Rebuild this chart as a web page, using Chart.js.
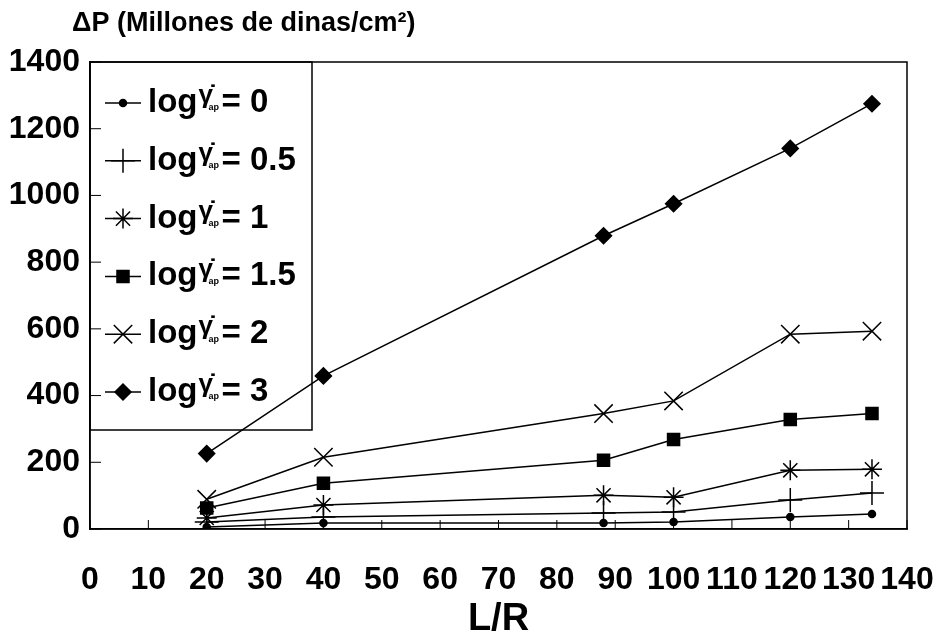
<!DOCTYPE html>
<html>
<head>
<meta charset="utf-8">
<script src="https://cdn.jsdelivr.net/npm/chart.js@4.4.1/dist/chart.umd.min.js"></script>
<style>
  body { margin: 0; background: #fff; }
  #wrap { width: 938px; height: 635px; }
</style>
</head>
<body>
<div id="wrap"><canvas id="myChart" width="938" height="635"></canvas></div>
<script>
// L/R values and pressure drop (millions of dyn/cm2), one array per shear rate
const lr = [20, 40, 88, 100, 120, 134];
const dp_0 = [6, 18, 18, 21, 36, 45];
const dp_05 = [21, 36, 48, 51, 87, 108];
const dp_1 = [33, 72, 101, 95, 176, 179];
const dp_15 = [63, 137, 206, 268, 328, 346];
const dp_2 = [89, 215, 346, 384, 584, 593];
const dp_3 = [226, 459, 879, 975, 1141, 1275];
const seriesNames = ["0", "0.5", "1", "1.5", "2", "3"];

const FONT = "'Liberation Sans', Arial, sans-serif";

function pts(vals) {
    return lr.map(function(x, i) { return {x: x, y: vals[i]}; });
}

function makeSet(name, vals, style, radius) {
    return {
        label: name,
        data: pts(vals),
        borderColor: "#000",
        backgroundColor: "#000",
        borderWidth: 1.5,
        pointStyle: style,
        pointRadius: radius,
        pointHoverRadius: radius,
        pointBorderWidth: 1.5,
        pointBackgroundColor: "#000",
        pointBorderColor: "#000",
        tension: 0,
        fill: false
    };
}

// title, frame, inward ticks and boxed legend
const extras = {
    id: "extras",
    afterDraw: function(chart) {
        const ctx = chart.ctx;
        const a = chart.chartArea;
        const xs = chart.scales.x, ys = chart.scales.y;
        ctx.save();
        ctx.strokeStyle = "#000";
        ctx.fillStyle = "#000";
        ctx.lineWidth = 1.5;
        ctx.strokeRect(a.left, a.top, a.right - a.left, a.bottom - a.top);

        ctx.lineWidth = 1;
        xs.ticks.forEach(function(t) {
            const px = xs.getPixelForValue(t.value);
            ctx.beginPath(); ctx.moveTo(px, a.bottom); ctx.lineTo(px, a.bottom - 9); ctx.stroke();
        });
        ys.ticks.forEach(function(t) {
            const py = ys.getPixelForValue(t.value);
            ctx.beginPath(); ctx.moveTo(a.left, py); ctx.lineTo(a.left + 11, py); ctx.stroke();
        });

        // axis title on top
        ctx.font = "bold 27px " + FONT;
        ctx.textBaseline = "middle";
        ctx.textAlign = "left";
        ctx.fillText("\u0394P (Millones de dinas/cm\u00B2)", 72, 24);

        // legend box
        ctx.lineWidth = 1.5;
        ctx.strokeRect(a.left, a.top, 222, 368);
        chart.data.datasets.forEach(function(ds, i) {
            const y = 103 + i * 57.8;
            ctx.lineWidth = 1.5;
            ctx.beginPath(); ctx.moveTo(105, y); ctx.lineTo(141, y); ctx.stroke();
            Chart.helpers.drawPoint(ctx, {
                pointStyle: ds.pointStyle, radius: ds.pointRadius, rotation: 0, borderWidth: 1.5
            }, 123, y);
            let x = 148;
            ctx.font = "bold 33px " + FONT;
            ctx.fillText("log", x, y);
            x += ctx.measureText("log").width + 1;
            ctx.font = "bold 26px " + FONT;
            ctx.fillText("\u03B3\u0307", x, y - 7);
            ctx.font = "bold 9px " + FONT;
            ctx.fillText("ap", x + 10, y + 5);
            x += 23;
            ctx.font = "bold 33px " + FONT;
            ctx.fillText("= " + seriesNames[i], x, y);
        });
        ctx.restore();
    }
};

const myChart = new Chart(document.getElementById("myChart").getContext("2d"), {
    type: "line",
    data: {
        datasets: [
            makeSet("0", dp_0, "circle", 3.5),
            makeSet("0.5", dp_05, "cross", 12),
            makeSet("1", dp_1, "star", 10),
            makeSet("1.5", dp_15, "rect", 8.5),
            makeSet("2", dp_2, "crossRot", 13),
            makeSet("3", dp_3, "rectRot", 8)
        ]
    },
    plugins: [extras],
    options: {
        responsive: false,
        animation: false,
        layout: { padding: { top: 62, right: 31, left: 0, bottom: 0 } },
        plugins: {
            legend: { display: false },
            tooltip: { enabled: false }
        },
        scales: {
            x: {
                type: "linear",
                min: 0,
                max: 140,
                ticks: {
                    stepSize: 10,
                    autoSkip: false,
                    maxRotation: 0,
                    padding: 32,
                    color: "#000",
                    font: { family: FONT, size: 32, weight: "bold" },
                    callback: function(v) { return String(v); }
                },
                grid: { drawOnChartArea: false, drawTicks: false },
                border: { color: "#000", width: 1.5 },
                title: {
                    display: true,
                    text: "L/R",
                    color: "#000",
                    padding: { top: 0, bottom: 0 },
                    font: { family: FONT, size: 38, weight: "bold", lineHeight: 0.8 }
                },
                afterFit: function(s) { s.height = 106; s.paddingLeft = 0; s.paddingRight = 0; }
            },
            y: {
                min: 0,
                max: 1400,
                ticks: {
                    stepSize: 200,
                    padding: 10,
                    color: "#000",
                    font: { family: FONT, size: 32, weight: "bold" },
                    callback: function(v) { return String(v); }
                },
                grid: { drawOnChartArea: false, drawTicks: false },
                border: { color: "#000", width: 1.5 },
                afterFit: function(s) { s.width = 90; s.paddingTop = 0; s.paddingBottom = 0; }
            }
        }
    }
});
</script>
</body>
</html>
